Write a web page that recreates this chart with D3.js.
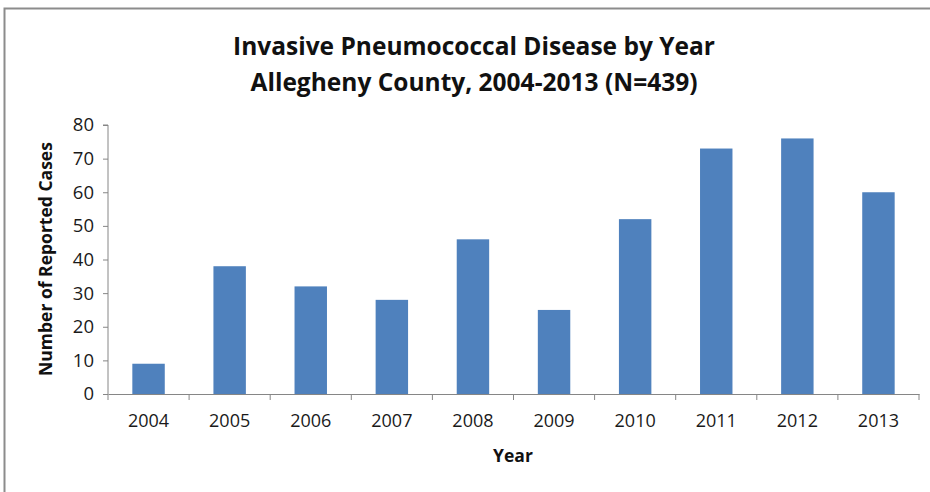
<!DOCTYPE html>
<html><head><meta charset="UTF-8">
<script src="https://d3js.org/d3.v7.min.js"></script>
</head>
<body style="margin:0;background:#fff">
<div id="body"></div>
<script>
var years = ["2004","2005","2006","2007","2008","2009","2010","2011","2012","2013"];
var cases = [9, 38, 32, 28, 46, 25, 52, 73, 76, 60];
var yTicks = [0, 10, 20, 30, 40, 50, 60, 70, 80];
var titleLines = ["Invasive Pneumococcal Disease by Year", "Allegheny County, 2004-2013 (N=439)"];

var w = 930, h = 492,
    mLeft = 108, mRight = 919, mTop = 125, mBottom = 394,
    font = "'Open Sans', 'Noto Sans', sans-serif";

var svg = d3.select("#body").append("svg")
    .attr("width", w)
    .attr("height", h);

svg.append("rect")
    .attr("width", w).attr("height", h).attr("fill", "#fff");

// chart border (only top and left visible in the crop)
svg.append("path")
    .attr("d", "M4.5,492 V8.5 H930")
    .attr("fill", "none")
    .attr("stroke", "#8c8c8c")
    .attr("stroke-width", 2);

var x = d3.scaleBand().domain(years).range([mLeft, mRight]).paddingInner(0.6).paddingOuter(0.3);
var xTickScale = d3.scaleBand().domain(years).range([mLeft, mRight]);
var y = d3.scaleLinear().domain([0, 80]).range([mBottom, mTop]);

svg.selectAll(".bar")
    .data(cases)
    .enter().append("rect")
    .attr("class", "bar")
    .attr("x", function(d, i) { return x(years[i]); })
    .attr("width", x.bandwidth())
    .attr("y", function(d) { return y(d); })
    .attr("height", function(d) { return y(0) - y(d); })
    .attr("fill", "#4f81bd");

// y axis
var yAxis = svg.append("g")
    .attr("transform", "translate(" + mLeft + ",0)")
    .call(d3.axisLeft(y).tickValues(yTicks).tickSize(5).tickPadding(9));
yAxis.select(".domain").attr("stroke", "#868686").attr("d", "M-5," + mTop + "H0V" + mBottom);
yAxis.selectAll(".tick line").attr("stroke", "#868686");
yAxis.selectAll(".tick text")
    .attr("fill", "#1a1a1a")
    .attr("font-family", font)
    .attr("font-size", "18.5px");

// x axis
var xAxis = svg.append("g")
    .attr("transform", "translate(0," + mBottom + ")")
    .call(d3.axisBottom(xTickScale).tickSize(0).tickPadding(20));
xAxis.select(".domain").attr("stroke", "#868686");
xAxis.selectAll(".tick text")
    .attr("fill", "#1a1a1a")
    .attr("font-family", font)
    .attr("font-size", "18px");
svg.selectAll(".xtick")
    .data(years.concat(["end"]))
    .enter().append("line")
    .attr("class", "xtick")
    .attr("x1", function(d, i) { return mLeft + i * xTickScale.step(); })
    .attr("x2", function(d, i) { return mLeft + i * xTickScale.step(); })
    .attr("y1", mBottom)
    .attr("y2", mBottom + 6)
    .attr("stroke", "#868686");

// titles
svg.selectAll(".title")
    .data(titleLines)
    .enter().append("text")
    .attr("class", "title")
    .attr("x", 474)
    .attr("y", function(d, i) { return 55 + i * 36; })
    .attr("text-anchor", "middle")
    .style("font-family", font)
    .style("font-weight", "bold")
    .style("font-size", "24.5px")
    .attr("fill", "#111")
    .text(function(d) { return d; });

svg.append("text")
    .attr("transform", "translate(52,259) rotate(-90)")
    .attr("text-anchor", "middle")
    .style("font-family", font)
    .style("font-weight", "bold")
    .style("font-size", "17.5px")
    .attr("fill", "#111")
    .text("Number of Reported Cases");

svg.append("text")
    .attr("x", 513)
    .attr("y", 462)
    .attr("text-anchor", "middle")
    .style("font-family", font)
    .style("font-weight", "bold")
    .style("font-size", "17.5px")
    .attr("fill", "#111")
    .text("Year");
</script>
</body></html>
